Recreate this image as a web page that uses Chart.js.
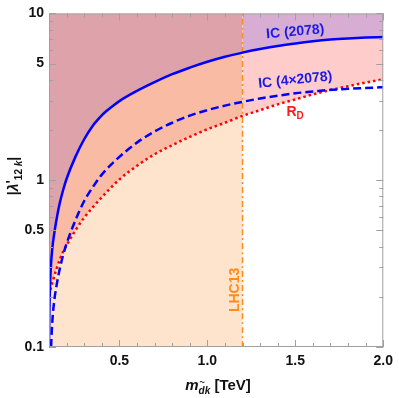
<!DOCTYPE html>
<html>
<head>
<meta charset="utf-8">
<script src="https://cdn.jsdelivr.net/npm/chart.js@4.4.1/dist/chart.umd.min.js"></script>
<style>
  html, body { margin: 0; padding: 0; background: #fff; }
  canvas { display: block; }
</style>
</head>
<body>
<canvas id="chart" width="399" height="398"></canvas>
<script>
// IC (2078) bound, solid blue
var mSolid = [0.1, 0.102, 0.105, 0.11, 0.12, 0.13, 0.14, 0.16, 0.18, 0.2, 0.25, 0.3, 0.35, 0.375, 0.4, 0.425, 0.45, 0.5, 0.6, 0.7, 0.8, 0.9, 1.0, 1.1, 1.2, 1.3, 1.4, 1.5, 1.6, 1.7, 1.8, 1.9, 2.0];
var lamSolid = [0.1, 0.16, 0.22, 0.295, 0.4, 0.48, 0.56, 0.72, 0.87, 1.02, 1.38, 1.76, 2.13, 2.29, 2.45, 2.59, 2.72, 2.98, 3.43, 3.87, 4.32, 4.73, 5.13, 5.5, 5.82, 6.11, 6.38, 6.61, 6.81, 6.97, 7.08, 7.16, 7.21];
// IC (4x2078) bound, dashed blue
var mDashed = [0.112, 0.115, 0.12, 0.13, 0.14, 0.16, 0.18, 0.2, 0.25, 0.3, 0.35, 0.4, 0.5, 0.6, 0.7, 0.8, 0.9, 1.0, 1.1, 1.2, 1.3, 1.4, 1.5, 1.6, 1.7, 1.8, 1.9, 2.0];
var lamDashed = [0.1, 0.12, 0.148, 0.19, 0.224, 0.29, 0.355, 0.417, 0.575, 0.75, 0.912, 1.08, 1.38, 1.68, 1.96, 2.21, 2.44, 2.63, 2.8, 2.95, 3.09, 3.21, 3.32, 3.4, 3.48, 3.53, 3.57, 3.61];
// R_D, dotted red
var mRed = [0.1, 0.12, 0.14, 0.16, 0.18, 0.2, 0.25, 0.3, 0.35, 0.4, 0.5, 0.6, 0.7, 0.8, 0.9, 1.0, 1.1, 1.2, 1.3, 1.4, 1.5, 1.6, 1.7, 1.8, 1.9, 2.0];
var lamRed = [0.204, 0.245, 0.288, 0.331, 0.372, 0.407, 0.5, 0.596, 0.69, 0.79, 1.01, 1.22, 1.43, 1.62, 1.82, 2.02, 2.21, 2.43, 2.63, 2.85, 3.05, 3.27, 3.47, 3.66, 3.85, 4.03];
// LHC13 limit
var mLHC = 1.2;

var xRange = [0.1, 2.0];
var yRange = [0.1, 10];
var xTickValues = [0.5, 1.0, 1.5, 2.0];
var xMinorTicks = [0.2, 0.3, 0.4, 0.6, 0.7, 0.8, 0.9, 1.1, 1.2, 1.3, 1.4, 1.6, 1.7, 1.8, 1.9];
var yTickValues = [0.1, 0.5, 1, 5, 10];
var yMinorTicks = [0.2, 0.3, 0.4, 0.6, 0.7, 0.8, 0.9, 2, 3, 4, 6, 7, 8, 9];

function pts(xs, ys) {
  return xs.map(function (x, i) { return { x: x, y: ys[i] }; });
}
var solidPts = pts(mSolid, lamSolid);
var dashedPts = pts(mDashed, lamDashed);
var redPts = pts(mRed, lamRed);
var left = function (p) { return p.x <= mLHC; };
var right = function (p) { return p.x >= mLHC; };

function area(data, fill, color, order) {
  return {
    data: data, fill: fill, backgroundColor: color,
    borderColor: "transparent", borderWidth: 0, pointRadius: 0,
    cubicInterpolationMode: "monotone", order: order
  };
}
function curve(data, color, width, dash, order) {
  return {
    data: data, fill: false, borderColor: color, borderWidth: width,
    borderDash: dash, pointRadius: 0, cubicInterpolationMode: "monotone", order: order
  };
}

var decor = {
  id: "decor",
  afterDatasetsDraw: function (chart) {
    var ctx = chart.ctx, a = chart.chartArea, x = chart.scales.x, y = chart.scales.y;
    ctx.save();
    ctx.strokeStyle = "#a0a0a0";
    ctx.lineWidth = 1;
    ctx.strokeRect(a.left + 0.5, a.top + 0.5, a.right - a.left - 1, a.bottom - a.top - 1);
    ctx.beginPath();
    function xt(v, len) {
      var px = Math.round(x.getPixelForValue(v)) + 0.5;
      ctx.moveTo(px, a.bottom); ctx.lineTo(px, a.bottom - len);
      ctx.moveTo(px, a.top); ctx.lineTo(px, a.top + len);
    }
    function yt(v, len) {
      var py = Math.round(y.getPixelForValue(v)) + 0.5;
      ctx.moveTo(a.left, py); ctx.lineTo(a.left + len, py);
      ctx.moveTo(a.right, py); ctx.lineTo(a.right - len, py);
    }
    xTickValues.forEach(function (v) { xt(v, 7); });
    xMinorTicks.forEach(function (v) { xt(v, 4); });
    yTickValues.forEach(function (v) { yt(v, 7); });
    yMinorTicks.forEach(function (v) { yt(v, 4); });
    ctx.stroke();
    ctx.restore();
  },
  afterDraw: function (chart) {
    var ctx = chart.ctx, x = chart.scales.x, y = chart.scales.y;
    var F = "'Liberation Sans', Arial, sans-serif";
    ctx.save();
    ctx.textBaseline = "middle";
    ctx.textAlign = "center";

    function rotText(t, vx, vy, ang, color, font) {
      ctx.save();
      ctx.translate(x.getPixelForValue(vx), y.getPixelForValue(vy));
      ctx.rotate(ang * Math.PI / 180);
      ctx.fillStyle = color;
      ctx.font = font;
      ctx.fillText(t, 0, 0);
      ctx.restore();
    }
    rotText("IC (2078)", 1.5, 7.75, -5, "#1a1ae6", "bold 14px " + F);
    rotText("IC (4\u00d72078)", 1.5, 3.98, -6, "#1a1ae6", "bold 14px " + F);
    rotText("LHC13", 1.16, 0.22, -90, "#ff8c1a", "bold 14px " + F);

    // R_D with subscript
    ctx.fillStyle = "#ff1a1a";
    var rx = x.getPixelForValue(1.49), ry = y.getPixelForValue(2.55);
    ctx.textAlign = "left";
    ctx.font = "bold 14px " + F;
    ctx.fillText("R", rx - 7, ry);
    ctx.font = "bold 10px " + F;
    ctx.fillText("D", rx + 3, ry + 4);

    // runs of text laid out on one baseline
    function runs(list, cx, cy, ang) {
      ctx.save();
      ctx.translate(cx, cy);
      ctx.rotate(ang * Math.PI / 180);
      ctx.fillStyle = "#111";
      ctx.textAlign = "left";
      ctx.textBaseline = "alphabetic";
      var w = 0;
      list.forEach(function (r) { ctx.font = r.f; r.w = ctx.measureText(r.t).width; w += r.w; });
      var px = -w / 2;
      list.forEach(function (r) {
        ctx.font = r.f;
        ctx.fillText(r.t, px, r.dy || 0);
        if (r.over) {
          ctx.font = "bold 9px " + F;
          ctx.fillText(r.over, px + 1, (r.dy || 0) - 9);
        }
        px += r.w;
      });
      ctx.restore();
    }
    // x title: m_{d~k} [TeV]
    runs([
      { t: "m", f: "italic bold 15px " + F },
      { t: "d", f: "italic bold 10px " + F, dy: 4, over: "~" },
      { t: "k", f: "italic bold 10px " + F, dy: 4 },
      { t: " [TeV]", f: "bold 15px " + F }
    ], 218, 390, 0);
    // y title: |λ'_{12 k}|
    runs([
      { t: "|", f: "bold 14px " + F },
      { t: "\u03bb", f: "italic bold 14px " + F },
      { t: "'", f: "bold 14px " + F, dy: -2 },
      { t: "12 ", f: "bold 10px " + F, dy: 4 },
      { t: "k", f: "italic bold 10px " + F, dy: 4 },
      { t: "|", f: "bold 14px " + F }
    ], 18, 176, -90);
    ctx.restore();
  }
};

new Chart(document.getElementById("chart"), {
  type: "line",
  data: {
    datasets: [
      curve(solidPts, "#0000ff", 2.5, [], 0),
      curve(dashedPts, "#0000ff", 2.5, [8, 4], 1),
      curve(redPts, "#ff0000", 2.5, [2.5, 3], 2),
      curve([{ x: mLHC, y: yRange[0] }, { x: mLHC, y: yRange[1] }], "#ff8c1a", 1.5, [6, 3, 2, 3], 3),
      area(solidPts.filter(left), "end", "#dda2aa", 5),
      area(solidPts.filter(right), "end", "#d7add3", 5),
      area(redPts.filter(left), "end", "#f9bba3", 6),
      area(redPts.filter(right), "end", "#ffcccc", 6),
      area(redPts.filter(left), "start", "#fee4cd", 7)
    ]
  },
  options: {
    responsive: false,
    animation: false,
    devicePixelRatio: 1,
    layout: { padding: { left: 0, right: 11, top: 9, bottom: 0 } },
    plugins: { legend: { display: false }, tooltip: { enabled: false } },
    scales: {
      x: {
        type: "linear", min: xRange[0], max: xRange[1],
        grid: { display: false, drawTicks: false },
        border: { display: false },
        afterBuildTicks: function (s) { s.ticks = xTickValues.map(function (v) { return { value: v }; }); },
        afterFit: function (s) { s.height = 51; },
        ticks: {
          autoSkip: false, maxRotation: 0, padding: 6, color: "#111",
          font: { family: "'Liberation Sans', Arial, sans-serif", size: 14, weight: "bold" },
          callback: function (v) { return Number(v).toFixed(1); }
        }
      },
      y: {
        type: "logarithmic", min: yRange[0], max: yRange[1],
        grid: { display: false, drawTicks: false },
        border: { display: false },
        afterBuildTicks: function (s) { s.ticks = yTickValues.map(function (v) { return { value: v }; }); },
        afterFit: function (s) { s.width = 49; },
        ticks: {
          autoSkip: false, padding: 5, color: "#111",
          font: { family: "'Liberation Sans', Arial, sans-serif", size: 14, weight: "bold" },
          callback: function (v) { return String(v); }
        }
      }
    }
  },
  plugins: [decor]
});
</script>
</body>
</html>
